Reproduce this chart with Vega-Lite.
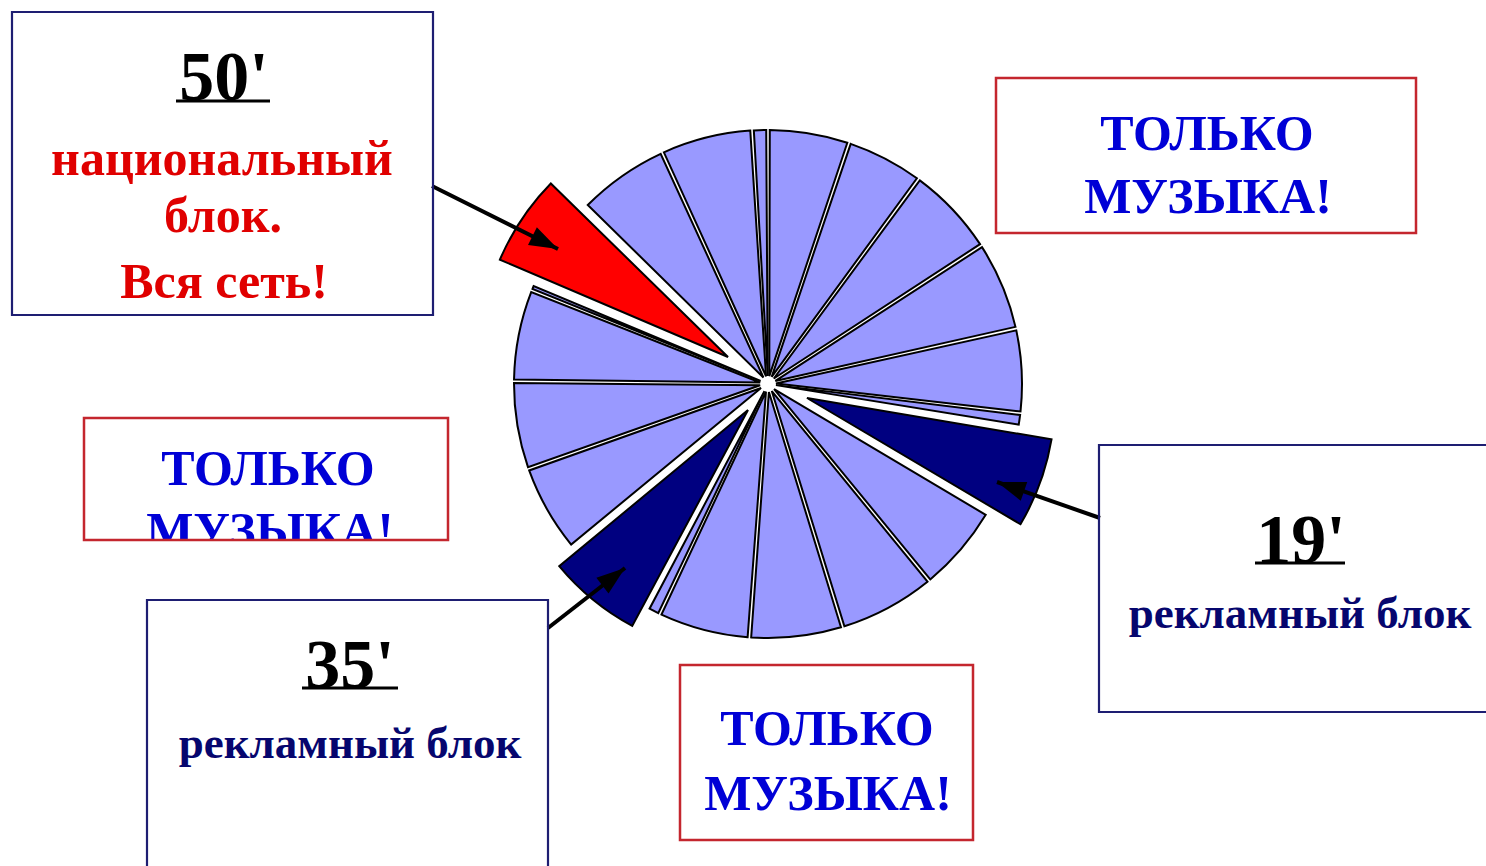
{
  "$schema": "https://vega.github.io/schema/vega-lite/v6.json",
  "width": 1486,
  "height": 866,
  "autosize": {"type": "fit", "contains": "padding"},
  "padding": 0,
  "background": "white",
  "config": {"view": {"stroke": null}},
  "datasets": {
    "segments": [
      {"start": 0, "end": 3.1, "kind": "music"},
      {"start": 3.1, "end": 6.05, "kind": "music"},
      {"start": 6.05, "end": 9.5, "kind": "music"},
      {"start": 9.5, "end": 12.9, "kind": "music"},
      {"start": 12.9, "end": 16.1, "kind": "music"},
      {"start": 16.1, "end": 16.6, "kind": "music"},
      {"start": 16.6, "end": 20.1, "kind": "ad19"},
      {"start": 20.1, "end": 23.45, "kind": "music"},
      {"start": 23.45, "end": 27.15, "kind": "music"},
      {"start": 27.15, "end": 30.7, "kind": "music"},
      {"start": 30.7, "end": 34.2, "kind": "music"},
      {"start": 34.2, "end": 34.7, "kind": "music"},
      {"start": 34.7, "end": 38.4, "kind": "ad35"},
      {"start": 38.4, "end": 41.75, "kind": "music"},
      {"start": 41.75, "end": 45.1, "kind": "music"},
      {"start": 45.1, "end": 48.6, "kind": "music"},
      {"start": 48.6, "end": 48.85, "kind": "music"},
      {"start": 48.85, "end": 52.4, "kind": "national"},
      {"start": 52.4, "end": 55.9, "kind": "music"},
      {"start": 55.9, "end": 59.4, "kind": "music"},
      {"start": 59.4, "end": 60, "kind": "music"}
    ],
    "boxes": [
      {"x": 12, "x2": 433, "y": 12, "y2": 315, "group": "national"},
      {"x": 996, "x2": 1416, "y": 78, "y2": 233, "group": "music"},
      {"x": 84, "x2": 448, "y": 418, "y2": 540, "group": "music"},
      {"x": 147, "x2": 548, "y": 600, "y2": 880, "group": "ad"},
      {"x": 680, "x2": 973, "y": 665, "y2": 840, "group": "music"},
      {"x": 1099, "x2": 1500, "y": 445, "y2": 712, "group": "ad"}
    ],
    "labels": [
      {"text": "50'", "x": 224, "y": 100, "style": "minute"},
      {"text": "35'", "x": 350, "y": 688, "style": "minute"},
      {"text": "19'", "x": 1301, "y": 563, "style": "minute"},
      {"text": "национальный", "x": 222, "y": 175, "style": "national"},
      {"text": "блок.", "x": 223, "y": 232, "style": "national"},
      {"text": "Вся сеть!", "x": 224, "y": 298, "style": "national"},
      {"text": "ТОЛЬКО", "x": 1207, "y": 150, "style": "music"},
      {"text": "МУЗЫКА!", "x": 1208, "y": 213, "style": "music"},
      {"text": "ТОЛЬКО", "x": 268, "y": 485, "style": "music"},
      {"text": "МУЗЫКА!", "x": 270, "y": 547, "style": "music"},
      {"text": "ТОЛЬКО", "x": 827, "y": 745, "style": "music"},
      {"text": "МУЗЫКА!", "x": 828, "y": 810, "style": "music"},
      {"text": "рекламный блок", "x": 350, "y": 758, "style": "ad"},
      {"text": "рекламный блок", "x": 1300, "y": 628, "style": "ad"}
    ],
    "underlines": [
      {"x": 176, "x2": 270, "y": 101},
      {"x": 302, "x2": 398, "y": 688},
      {"x": 1255, "x2": 1345, "y": 563}
    ],
    "arrows": [
      {"x": 432, "y": 186, "x2": 558, "y2": 249},
      {"x": 1100, "y": 518, "x2": 997, "y2": 482},
      {"x": 548, "y": 628, "x2": 625, "y2": 568}
    ],
    "mask": [
      {"x": 80, "x2": 455, "y": 541, "y2": 566}
    ]
  },
  "layer": [
    {
      "data": {"name": "segments"},
      "transform": [{"filter": "datum.kind === 'music'"}],
      "mark": {"type": "arc", "radius": 254, "radius2": 8, "padAngle": 0.014, "fill": "#9999ff", "stroke": "black", "strokeWidth": 2},
      "encoding": {
        "x": {"datum": 768, "type": "quantitative", "scale": {"domain": [0, 1486], "nice": false, "zero": false}, "axis": null},
        "y": {"datum": 384, "type": "quantitative", "scale": {"domain": [0, 866], "nice": false, "zero": false, "reverse": true}, "axis": null},
        "theta": {"field": "start", "type": "quantitative", "stack": null, "scale": {"domain": [0, 60], "range": [0, 6.283185307179586]}},
        "theta2": {"field": "end"}
      }
    },
    {
      "data": {"name": "segments"},
      "transform": [{"filter": "datum.kind === 'national'"}],
      "mark": {"type": "arc", "radius": 248, "radius2": 0, "fill": "#ff0000", "stroke": "black", "strokeWidth": 2},
      "encoding": {
        "x": {"datum": 728, "type": "quantitative"},
        "y": {"datum": 357, "type": "quantitative"},
        "theta": {"field": "start", "type": "quantitative", "stack": null},
        "theta2": {"field": "end"}
      }
    },
    {
      "data": {"name": "segments"},
      "transform": [{"filter": "datum.kind === 'ad19'"}],
      "mark": {"type": "arc", "radius": 248, "radius2": 0, "fill": "#000080", "stroke": "black", "strokeWidth": 2},
      "encoding": {
        "x": {"datum": 807, "type": "quantitative"},
        "y": {"datum": 398, "type": "quantitative"},
        "theta": {"field": "start", "type": "quantitative", "stack": null},
        "theta2": {"field": "end"}
      }
    },
    {
      "data": {"name": "segments"},
      "transform": [{"filter": "datum.kind === 'ad35'"}],
      "mark": {"type": "arc", "radius": 245, "radius2": 0, "fill": "#000080", "stroke": "black", "strokeWidth": 2},
      "encoding": {
        "x": {"datum": 748, "type": "quantitative"},
        "y": {"datum": 410, "type": "quantitative"},
        "theta": {"field": "start", "type": "quantitative", "stack": null},
        "theta2": {"field": "end"}
      }
    },
    {
      "data": {"name": "arrows"},
      "mark": {"type": "rule", "color": "black", "strokeWidth": 4},
      "encoding": {
        "x": {"field": "x", "type": "quantitative"},
        "y": {"field": "y", "type": "quantitative"},
        "x2": {"field": "x2"},
        "y2": {"field": "y2"}
      }
    },
    {
      "data": {"name": "arrows"},
      "transform": [{"calculate": "atan2(datum.x2 - datum.x, datum.y - datum.y2) * 180 / PI", "as": "heading"}],
      "mark": {"type": "point", "shape": "M0,0L-0.9,2.6L0.9,2.6Z", "size": 484, "filled": true, "color": "black", "opacity": 1},
      "encoding": {
        "x": {"field": "x2", "type": "quantitative"},
        "y": {"field": "y2", "type": "quantitative"},
        "angle": {"field": "heading", "type": "quantitative", "scale": null}
      }
    },
    {
      "data": {"name": "labels"},
      "transform": [{"filter": "datum.style === 'minute'"}],
      "mark": {"type": "text", "font": "Liberation Serif", "fontWeight": "bold", "fontSize": 70, "color": "black", "align": "center", "baseline": "alphabetic"},
      "encoding": {
        "x": {"field": "x", "type": "quantitative"},
        "y": {"field": "y", "type": "quantitative"},
        "text": {"field": "text"}
      }
    },
    {
      "data": {"name": "labels"},
      "transform": [{"filter": "datum.style === 'national'"}],
      "mark": {"type": "text", "font": "Liberation Serif", "fontWeight": "bold", "fontSize": 50, "color": "#e00000", "align": "center", "baseline": "alphabetic"},
      "encoding": {
        "x": {"field": "x", "type": "quantitative"},
        "y": {"field": "y", "type": "quantitative"},
        "text": {"field": "text"}
      }
    },
    {
      "data": {"name": "labels"},
      "transform": [{"filter": "datum.style === 'music'"}],
      "mark": {"type": "text", "font": "Liberation Serif", "fontWeight": "bold", "fontSize": 50, "color": "#0000d6", "align": "center", "baseline": "alphabetic"},
      "encoding": {
        "x": {"field": "x", "type": "quantitative"},
        "y": {"field": "y", "type": "quantitative"},
        "text": {"field": "text"}
      }
    },
    {
      "data": {"name": "labels"},
      "transform": [{"filter": "datum.style === 'ad'"}],
      "mark": {"type": "text", "font": "Liberation Serif", "fontWeight": "bold", "fontSize": 45, "color": "#06066e", "align": "center", "baseline": "alphabetic"},
      "encoding": {
        "x": {"field": "x", "type": "quantitative"},
        "y": {"field": "y", "type": "quantitative"},
        "text": {"field": "text"}
      }
    },
    {
      "data": {"name": "underlines"},
      "mark": {"type": "rule", "color": "black", "strokeWidth": 3},
      "encoding": {
        "x": {"field": "x", "type": "quantitative"},
        "x2": {"field": "x2"},
        "y": {"field": "y", "type": "quantitative"}
      }
    },
    {
      "data": {"name": "mask"},
      "mark": {"type": "rect", "fill": "white", "stroke": null},
      "encoding": {
        "x": {"field": "x", "type": "quantitative"},
        "x2": {"field": "x2"},
        "y": {"field": "y", "type": "quantitative"},
        "y2": {"field": "y2"}
      }
    },
    {
      "data": {"name": "boxes"},
      "transform": [{"filter": "datum.group !== 'music'"}],
      "mark": {"type": "rect", "filled": false, "stroke": "#1e1e72", "strokeWidth": 2.2, "clip": true},
      "encoding": {
        "x": {"field": "x", "type": "quantitative"},
        "x2": {"field": "x2"},
        "y": {"field": "y", "type": "quantitative"},
        "y2": {"field": "y2"}
      }
    },
    {
      "data": {"name": "boxes"},
      "transform": [{"filter": "datum.group === 'music'"}],
      "mark": {"type": "rect", "filled": false, "stroke": "#c4262e", "strokeWidth": 2.5, "clip": true},
      "encoding": {
        "x": {"field": "x", "type": "quantitative"},
        "x2": {"field": "x2"},
        "y": {"field": "y", "type": "quantitative"},
        "y2": {"field": "y2"}
      }
    }
  ]
}
